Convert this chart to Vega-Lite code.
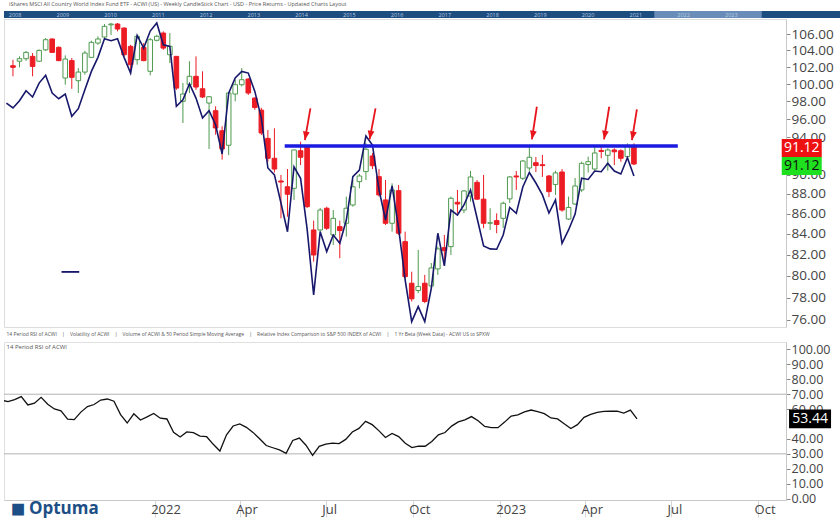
{
  "$schema": "https://vega.github.io/schema/vega-lite/v6.json",
  "background": "#ffffff",
  "padding": {"left": 3, "top": 1, "right": 0, "bottom": 0},
  "config": {
    "font": "Open Sans",
    "view": {"stroke": null},
    "axis": {"grid": false, "labelFont": "Open Sans", "titleFont": "Open Sans", "labelOverlap": false, "labelBound": false, "labelSeparation": 0},
    "title": {"font": "Open Sans", "subtitleFont": "Open Sans"}
  },
  "datasets": {
    "candles": [
      {"d":"2021-07-30","o":102.16,"h":102.88,"l":100.91,"c":101.97},
      {"d":"2021-08-06","o":102.70,"h":103.28,"l":101.97,"c":103.00},
      {"d":"2021-08-13","o":103.00,"h":103.92,"l":102.73,"c":103.76},
      {"d":"2021-08-20","o":103.28,"h":103.68,"l":100.91,"c":102.08},
      {"d":"2021-08-27","o":102.70,"h":104.10,"l":102.60,"c":104.00},
      {"d":"2021-09-03","o":104.07,"h":105.51,"l":103.92,"c":105.30},
      {"d":"2021-09-10","o":105.39,"h":105.45,"l":103.68,"c":103.76},
      {"d":"2021-09-17","o":104.37,"h":104.49,"l":102.70,"c":102.77},
      {"d":"2021-09-24","o":100.71,"h":103.40,"l":99.93,"c":102.96},
      {"d":"2021-10-01","o":102.77,"h":103.08,"l":99.46,"c":100.79},
      {"d":"2021-10-08","o":100.40,"h":101.88,"l":98.97,"c":101.41},
      {"d":"2021-10-15","o":101.41,"h":103.95,"l":101.10,"c":103.68},
      {"d":"2021-10-22","o":103.16,"h":105.18,"l":103.08,"c":104.98},
      {"d":"2021-10-29","o":104.89,"h":105.72,"l":104.68,"c":105.39},
      {"d":"2021-11-05","o":105.63,"h":107.24,"l":105.51,"c":106.95},
      {"d":"2021-11-12","o":107.14,"h":107.37,"l":105.88,"c":107.24},
      {"d":"2021-11-19","o":107.24,"h":107.37,"l":106.33,"c":106.62},
      {"d":"2021-11-26","o":106.74,"h":106.83,"l":103.28,"c":103.48},
      {"d":"2021-12-03","o":104.49,"h":104.68,"l":101.30,"c":102.28},
      {"d":"2021-12-10","o":102.88,"h":105.91,"l":102.28,"c":105.72},
      {"d":"2021-12-17","o":104.37,"h":104.89,"l":102.70,"c":102.77},
      {"d":"2021-12-24","o":101.50,"h":105.51,"l":101.03,"c":105.30},
      {"d":"2021-12-31","o":105.23,"h":105.91,"l":105.10,"c":105.72},
      {"d":"2022-01-07","o":106.12,"h":106.33,"l":104.07,"c":104.28},
      {"d":"2022-01-14","o":103.48,"h":106.12,"l":102.48,"c":104.49},
      {"d":"2022-01-21","o":103.28,"h":103.30,"l":99.34,"c":99.54},
      {"d":"2022-01-28","o":98.01,"h":100.13,"l":95.57,"c":98.85},
      {"d":"2022-02-04","o":99.93,"h":102.70,"l":98.97,"c":100.91},
      {"d":"2022-02-11","o":100.91,"h":103.28,"l":99.34,"c":99.66},
      {"d":"2022-02-18","o":99.46,"h":101.50,"l":98.39,"c":98.51},
      {"d":"2022-02-25","o":97.82,"h":98.60,"l":92.73,"c":98.54},
      {"d":"2022-03-04","o":96.95,"h":97.45,"l":94.28,"c":95.02},
      {"d":"2022-03-11","o":94.72,"h":95.21,"l":91.58,"c":92.73},
      {"d":"2022-03-18","o":93.13,"h":99.00,"l":92.07,"c":98.97},
      {"d":"2022-03-25","o":98.85,"h":100.51,"l":98.01,"c":99.93},
      {"d":"2022-04-01","o":99.93,"h":101.88,"l":99.74,"c":100.51},
      {"d":"2022-04-08","o":100.59,"h":100.71,"l":98.74,"c":98.97},
      {"d":"2022-04-15","o":98.39,"h":98.47,"l":97.05,"c":97.31},
      {"d":"2022-04-22","o":97.02,"h":97.28,"l":94.25,"c":94.47},
      {"d":"2022-04-29","o":93.88,"h":94.80,"l":91.36,"c":91.73},
      {"d":"2022-05-06","o":91.73,"h":94.99,"l":90.22,"c":90.59},
      {"d":"2022-05-13","o":89.34,"h":89.97,"l":85.54,"c":89.23},
      {"d":"2022-05-20","o":88.74,"h":90.59,"l":85.70,"c":87.97},
      {"d":"2022-05-27","o":88.58,"h":92.65,"l":87.39,"c":92.62},
      {"d":"2022-06-03","o":92.54,"h":93.52,"l":91.01,"c":91.84},
      {"d":"2022-06-10","o":92.98,"h":93.16,"l":86.58,"c":86.71},
      {"d":"2022-06-17","o":84.39,"h":85.31,"l":81.34,"c":81.97},
      {"d":"2022-06-24","o":84.39,"h":86.58,"l":84.20,"c":86.37},
      {"d":"2022-07-01","o":86.55,"h":86.71,"l":84.39,"c":84.56},
      {"d":"2022-07-08","o":83.90,"h":86.37,"l":82.93,"c":85.54},
      {"d":"2022-07-15","o":84.72,"h":85.31,"l":81.66,"c":84.33},
      {"d":"2022-07-22","o":85.05,"h":87.73,"l":83.74,"c":86.55},
      {"d":"2022-07-29","o":86.88,"h":89.44,"l":86.71,"c":88.74},
      {"d":"2022-08-05","o":89.27,"h":90.07,"l":88.58,"c":89.86},
      {"d":"2022-08-12","o":90.32,"h":93.38,"l":89.44,"c":92.70},
      {"d":"2022-08-19","o":91.98,"h":92.29,"l":90.59,"c":90.94},
      {"d":"2022-08-26","o":89.79,"h":90.59,"l":87.73,"c":87.90},
      {"d":"2022-09-02","o":87.39,"h":89.44,"l":84.88,"c":85.05},
      {"d":"2022-09-09","o":85.05,"h":89.10,"l":84.23,"c":88.41},
      {"d":"2022-09-16","o":88.34,"h":88.93,"l":83.90,"c":84.07},
      {"d":"2022-09-23","o":83.25,"h":84.23,"l":79.78,"c":79.93},
      {"d":"2022-09-30","o":79.32,"h":80.39,"l":77.65,"c":77.89},
      {"d":"2022-10-07","o":78.65,"h":82.45,"l":78.41,"c":79.01},
      {"d":"2022-10-14","o":79.32,"h":80.09,"l":77.50,"c":77.65},
      {"d":"2022-10-21","o":79.07,"h":81.21,"l":78.88,"c":80.74},
      {"d":"2022-10-28","o":80.65,"h":82.77,"l":80.09,"c":82.55},
      {"d":"2022-11-04","o":82.67,"h":83.90,"l":81.02,"c":82.38},
      {"d":"2022-11-11","o":82.77,"h":87.73,"l":81.97,"c":87.56},
      {"d":"2022-11-18","o":87.15,"h":88.41,"l":86.04,"c":86.98},
      {"d":"2022-11-25","o":86.37,"h":88.41,"l":86.07,"c":88.31},
      {"d":"2022-12-02","o":87.79,"h":90.39,"l":87.22,"c":89.76},
      {"d":"2022-12-09","o":89.20,"h":89.44,"l":87.39,"c":87.47},
      {"d":"2022-12-16","o":87.47,"h":89.97,"l":84.56,"c":85.05},
      {"d":"2022-12-23","o":85.05,"h":86.55,"l":84.39,"c":85.11},
      {"d":"2022-12-30","o":85.31,"h":86.04,"l":84.07,"c":84.93},
      {"d":"2023-01-06","o":85.54,"h":87.22,"l":84.59,"c":87.05},
      {"d":"2023-01-13","o":87.50,"h":89.86,"l":87.08,"c":89.76},
      {"d":"2023-01-20","o":89.86,"h":90.39,"l":88.41,"c":89.76},
      {"d":"2023-01-27","o":89.62,"h":91.55,"l":89.44,"c":91.44},
      {"d":"2023-02-03","o":90.70,"h":93.16,"l":90.41,"c":91.84},
      {"d":"2023-02-10","o":91.26,"h":91.87,"l":90.28,"c":90.96},
      {"d":"2023-02-17","o":91.05,"h":92.09,"l":89.76,"c":90.95},
      {"d":"2023-02-24","o":89.86,"h":89.97,"l":87.69,"c":88.24},
      {"d":"2023-03-03","o":88.98,"h":90.41,"l":87.90,"c":90.18},
      {"d":"2023-03-10","o":90.28,"h":90.59,"l":86.20,"c":86.37},
      {"d":"2023-03-17","o":85.47,"h":87.73,"l":85.38,"c":86.63},
      {"d":"2023-03-24","o":86.98,"h":89.65,"l":86.88,"c":88.82},
      {"d":"2023-03-31","o":88.41,"h":91.37,"l":88.21,"c":91.19},
      {"d":"2023-04-07","o":91.07,"h":91.91,"l":90.22,"c":91.37},
      {"d":"2023-04-14","o":90.59,"h":93.16,"l":90.41,"c":92.30},
      {"d":"2023-04-21","o":92.57,"h":92.98,"l":91.73,"c":92.46},
      {"d":"2023-04-28","o":92.05,"h":92.81,"l":90.41,"c":92.62},
      {"d":"2023-05-05","o":92.62,"h":92.81,"l":91.01,"c":92.43},
      {"d":"2023-05-12","o":92.54,"h":92.70,"l":91.36,"c":91.73},
      {"d":"2023-05-19","o":91.91,"h":93.34,"l":91.73,"c":93.08},
      {"d":"2023-05-26","o":92.98,"h":93.34,"l":91.01,"c":91.12}
    ],
    "lines": [
      {"d":"2021-07-23","v":97.82,"r":66.0},
      {"d":"2021-07-30","v":97.26,"r":65.0},
      {"d":"2021-08-06","v":98.08,"r":66.4},
      {"d":"2021-08-13","v":99.23,"r":68.4},
      {"d":"2021-08-20","v":98.51,"r":62.8},
      {"d":"2021-08-27","v":100.12,"r":64.0},
      {"d":"2021-09-03","v":101.03,"r":67.9},
      {"d":"2021-09-10","v":98.96,"r":63.3},
      {"d":"2021-09-17","v":98.31,"r":60.1},
      {"d":"2021-09-24","v":98.85,"r":58.9},
      {"d":"2021-10-01","v":96.32,"r":53.3},
      {"d":"2021-10-08","v":97.18,"r":53.0},
      {"d":"2021-10-15","v":99.35,"r":58.0},
      {"d":"2021-10-22","v":101.49,"r":61.7},
      {"d":"2021-10-29","v":103.16,"r":63.1},
      {"d":"2021-11-05","v":105.42,"r":66.1},
      {"d":"2021-11-12","v":105.17,"r":66.8},
      {"d":"2021-11-19","v":105.42,"r":65.3},
      {"d":"2021-11-26","v":103.16,"r":56.3},
      {"d":"2021-12-03","v":101.29,"r":50.7},
      {"d":"2021-12-10","v":105.82,"r":56.9},
      {"d":"2021-12-17","v":104.28,"r":52.7},
      {"d":"2021-12-24","v":106.37,"r":54.8},
      {"d":"2021-12-31","v":107.37,"r":57.1},
      {"d":"2022-01-07","v":104.69,"r":53.9},
      {"d":"2022-01-14","v":104.49,"r":53.4},
      {"d":"2022-01-21","v":97.45,"r":44.5},
      {"d":"2022-01-28","v":98.19,"r":41.3},
      {"d":"2022-02-04","v":100.04,"r":44.7},
      {"d":"2022-02-11","v":98.39,"r":44.2},
      {"d":"2022-02-18","v":96.13,"r":41.9},
      {"d":"2022-02-25","v":96.95,"r":41.5},
      {"d":"2022-03-04","v":95.38,"r":36.4},
      {"d":"2022-03-11","v":92.19,"r":31.9},
      {"d":"2022-03-18","v":98.96,"r":42.8},
      {"d":"2022-03-25","v":100.71,"r":48.7},
      {"d":"2022-04-01","v":101.49,"r":50.1},
      {"d":"2022-04-08","v":101.29,"r":47.8},
      {"d":"2022-04-15","v":99.16,"r":44.4},
      {"d":"2022-04-22","v":96.13,"r":40.1},
      {"d":"2022-04-29","v":90.70,"r":35.6},
      {"d":"2022-05-06","v":89.97,"r":34.1},
      {"d":"2022-05-13","v":87.08,"r":32.7},
      {"d":"2022-05-20","v":84.22,"r":30.4},
      {"d":"2022-05-27","v":90.83,"r":39.0},
      {"d":"2022-06-03","v":89.62,"r":40.6},
      {"d":"2022-06-10","v":84.49,"r":35.8},
      {"d":"2022-06-17","v":78.25,"r":29.0},
      {"d":"2022-06-24","v":84.22,"r":35.0},
      {"d":"2022-07-01","v":82.29,"r":36.5},
      {"d":"2022-07-08","v":83.90,"r":37.2},
      {"d":"2022-07-15","v":83.09,"r":36.9},
      {"d":"2022-07-22","v":85.37,"r":39.7},
      {"d":"2022-07-29","v":89.79,"r":44.7},
      {"d":"2022-08-05","v":90.48,"r":47.1},
      {"d":"2022-08-12","v":94.14,"r":51.8},
      {"d":"2022-08-19","v":93.16,"r":49.6},
      {"d":"2022-08-26","v":88.41,"r":45.6},
      {"d":"2022-09-02","v":85.37,"r":41.0},
      {"d":"2022-09-09","v":88.82,"r":43.7},
      {"d":"2022-09-16","v":84.58,"r":41.6},
      {"d":"2022-09-23","v":79.62,"r":37.1},
      {"d":"2022-09-30","v":75.85,"r":34.2},
      {"d":"2022-10-07","v":77.19,"r":35.2},
      {"d":"2022-10-14","v":75.85,"r":35.1},
      {"d":"2022-10-21","v":78.85,"r":38.3},
      {"d":"2022-10-28","v":84.07,"r":42.8},
      {"d":"2022-11-04","v":80.93,"r":44.3},
      {"d":"2022-11-11","v":86.37,"r":48.6},
      {"d":"2022-11-18","v":85.87,"r":51.4},
      {"d":"2022-11-25","v":86.88,"r":52.8},
      {"d":"2022-12-02","v":88.41,"r":55.0},
      {"d":"2022-12-09","v":85.57,"r":52.2},
      {"d":"2022-12-16","v":82.84,"r":48.4},
      {"d":"2022-12-23","v":82.55,"r":47.6},
      {"d":"2022-12-30","v":82.52,"r":47.6},
      {"d":"2023-01-06","v":83.90,"r":51.3},
      {"d":"2023-01-13","v":86.63,"r":55.4},
      {"d":"2023-01-20","v":86.04,"r":56.1},
      {"d":"2023-01-27","v":88.72,"r":58.1},
      {"d":"2023-02-03","v":90.23,"r":59.4},
      {"d":"2023-02-10","v":89.13,"r":58.3},
      {"d":"2023-02-17","v":87.90,"r":57.0},
      {"d":"2023-02-24","v":86.07,"r":54.1},
      {"d":"2023-03-03","v":87.39,"r":53.4},
      {"d":"2023-03-10","v":83.09,"r":50.2},
      {"d":"2023-03-17","v":84.39,"r":47.0},
      {"d":"2023-03-24","v":85.97,"r":49.6},
      {"d":"2023-03-31","v":89.62,"r":54.5},
      {"d":"2023-04-07","v":89.50,"r":56.5},
      {"d":"2023-04-14","v":90.38,"r":57.8},
      {"d":"2023-04-21","v":90.31,"r":58.5},
      {"d":"2023-04-28","v":91.19,"r":58.6},
      {"d":"2023-05-05","v":90.38,"r":58.7},
      {"d":"2023-05-12","v":90.07,"r":57.4},
      {"d":"2023-05-19","v":91.79,"r":59.4},
      {"d":"2023-05-26","v":89.86,"r":53.44}
    ],
    "arrows": [
      {"d1":"2022-06-13T13:00:00Z","p1":97.22,"d2":"2022-06-07T15:00:00Z","p2":93.70},
      {"d1":"2022-08-22T07:00:00Z","p1":97.22,"d2":"2022-08-15T23:00:00Z","p2":93.78},
      {"d1":"2023-02-11T01:00:00Z","p1":97.40,"d2":"2023-02-05T18:00:00Z","p2":93.78},
      {"d1":"2023-04-29T13:00:00Z","p1":97.40,"d2":"2023-04-23T23:00:00Z","p2":93.78},
      {"d1":"2023-05-29T04:00:00Z","p1":97.10,"d2":"2023-05-23T21:00:00Z","p2":93.70}
    ]
  },
  "spacing": 0,
  "vconcat": [
    {
      "width": 837,
      "height": 7,
      "title": {"text": "iShares MSCI All Country World Index Fund ETF - ACWI (US) - Weekly CandleStick Chart - USD - Price Returns - Updated Charts Layout", "anchor": "start", "fontSize": 5.5, "fontWeight": "normal", "color": "#555555", "offset": 4, "dx": 5},
      "view": {"fill": "#1e4d80", "stroke": null},
      "layer": [
        {
          "data": {"values": [{"from": 2021.54, "to": 2023.79}]},
          "mark": {"type": "rect", "color": "#6a8cb8"},
          "encoding": {
            "x": {"field": "from", "type": "quantitative", "scale": {"domain": [2007.92, 2025.45]}, "axis": null},
            "x2": {"field": "to"}
          }
        },
        {
          "data": {"values": [{"yr":2008},{"yr":2009},{"yr":2010},{"yr":2011},{"yr":2012},{"yr":2013},{"yr":2014},{"yr":2015},{"yr":2016},{"yr":2017},{"yr":2018},{"yr":2019},{"yr":2020},{"yr":2021},{"yr":2022},{"yr":2023}]},
          "mark": {"type": "text", "align": "left", "dx": 1, "fontSize": 5.5, "color": "#b9cce3"},
          "encoding": {
            "x": {"field": "yr", "type": "quantitative", "scale": {"domain": [2007.92, 2025.45]}, "axis": null},
            "text": {"field": "yr", "type": "nominal"}
          }
        }
      ]
    },
    {
      "spacing": 3,
      "vconcat": [
        {
          "width": 782,
          "height": 308,
          "view": {"stroke": "#dcdcdc"},
          "resolve": {"axis": {"y": "independent"}},
          "layer": [
            {
              "data": {"name": "candles"},
              "mark": {"type": "rule", "strokeWidth": 1},
              "encoding": {
                "x": {"field": "d", "type": "temporal", "scale": {"type": "utc", "domain": [{"year":2021,"month":7,"date":25,"hours":18,"utc":true},{"year":2023,"month":10,"date":30,"hours":12,"utc":true}]}, "axis": null},
                "y": {"field": "l", "type": "quantitative", "scale": {"type": "log", "domain": [75.38, 107.87]},
                      "axis": {"orient": "right", "values": [76,78,80,82,84,86,88,90,94,96,98,100,102,104,106], "format": ".2f", "labelFontSize": 13.5, "labelColor": "#444444", "tickSize": 4, "tickColor": "#888888", "domainColor": "#c8c8c8", "labelPadding": 1, "labelOverlap": false, "title": null}},
                "y2": {"field": "h"},
                "color": {"condition": {"test": "datum.c >= datum.o", "value": "#4f9a4f"}, "value": "#ec1c24"}
              }
            },
            {
              "data": {"name": "candles"},
              "mark": {"type": "bar", "width": 4.6, "strokeWidth": 1},
              "encoding": {
                "x": {"field": "d", "type": "temporal", "scale": {"type": "utc", "domain": [{"year":2021,"month":7,"date":25,"hours":18,"utc":true},{"year":2023,"month":10,"date":30,"hours":12,"utc":true}]}, "axis": null},
                "y": {"field": "o", "type": "quantitative", "scale": {"type": "log", "domain": [75.38, 107.87]}, "axis": null},
                "y2": {"field": "c"},
                "fill": {"condition": {"test": "datum.c >= datum.o", "value": "#ffffff"}, "value": "#ec1c24"},
                "stroke": {"condition": {"test": "datum.c >= datum.o", "value": "#4f9a4f"}, "value": "#ec1c24"}
              }
            },
            {
              "data": {"name": "lines"},
              "mark": {"type": "line", "color": "#17186b", "strokeWidth": 1.6, "clip": true},
              "encoding": {
                "x": {"field": "d", "type": "temporal", "scale": {"type": "utc", "domain": [{"year":2021,"month":7,"date":25,"hours":18,"utc":true},{"year":2023,"month":10,"date":30,"hours":12,"utc":true}]}, "axis": null},
                "y": {"field": "v", "type": "quantitative", "scale": {"type": "log", "domain": [75.38, 107.87]}, "axis": null}
              }
            },
            {
              "data": {"values": [{"a": "2021-09-20", "b": "2021-10-09", "v": 80.37}]},
              "mark": {"type": "rule", "color": "#17186b", "strokeWidth": 1.8},
              "encoding": {
                "x": {"field": "a", "type": "temporal", "scale": {"type": "utc", "domain": [{"year":2021,"month":7,"date":25,"hours":18,"utc":true},{"year":2023,"month":10,"date":30,"hours":12,"utc":true}]}, "axis": null},
                "x2": {"field": "b"},
                "y": {"field": "v", "type": "quantitative", "scale": {"type": "log", "domain": [75.38, 107.87]}, "axis": null}
              }
            },
            {
              "data": {"values": [{"a": "2022-05-17", "b": "2023-07-12", "v": 93.05}]},
              "mark": {"type": "rule", "color": "#1b1be0", "strokeWidth": 3.5},
              "encoding": {
                "x": {"field": "a", "type": "temporal", "scale": {"type": "utc", "domain": [{"year":2021,"month":7,"date":25,"hours":18,"utc":true},{"year":2023,"month":10,"date":30,"hours":12,"utc":true}]}, "axis": null},
                "x2": {"field": "b"},
                "y": {"field": "v", "type": "quantitative", "scale": {"type": "log", "domain": [75.38, 107.87]}, "axis": null}
              }
            },
            {
              "data": {"name": "arrows"},
              "mark": {"type": "rule", "color": "#e8141b", "strokeWidth": 1.8},
              "encoding": {
                "x": {"field": "d1", "type": "temporal", "scale": {"type": "utc", "domain": [{"year":2021,"month":7,"date":25,"hours":18,"utc":true},{"year":2023,"month":10,"date":30,"hours":12,"utc":true}]}, "axis": null},
                "x2": {"field": "d2"},
                "y": {"field": "p1", "type": "quantitative", "scale": {"type": "log", "domain": [75.38, 107.87]}, "axis": null},
                "y2": {"field": "p2"}
              }
            },
            {
              "data": {"name": "arrows"},
              "mark": {"type": "point", "shape": "M0,0L-0.8,-2L0.8,-2Z", "size": 72, "angle": 10, "filled": true, "opacity": 1, "color": "#e8141b"},
              "encoding": {
                "x": {"field": "d2", "type": "temporal", "scale": {"type": "utc", "domain": [{"year":2021,"month":7,"date":25,"hours":18,"utc":true},{"year":2023,"month":10,"date":30,"hours":12,"utc":true}]}, "axis": null},
                "y": {"field": "p2", "type": "quantitative", "scale": {"type": "log", "domain": [75.38, 107.87]}, "axis": null}
              }
            },
            {
              "data": {"values": [{"d": "2023-11-21T17:00:00Z", "v": 91.12}]},
              "mark": {"type": "point", "shape": "M-1,-0.45H1V0.45H-1Z", "size": 1600, "filled": true, "opacity": 1, "color": "#ee1111", "yOffset": -16},
              "encoding": {
                "x": {"field": "d", "type": "temporal", "scale": {"type": "utc", "domain": [{"year":2021,"month":7,"date":25,"hours":18,"utc":true},{"year":2023,"month":10,"date":30,"hours":12,"utc":true}]}, "axis": null},
                "y": {"field": "v", "type": "quantitative", "scale": {"type": "log", "domain": [75.38, 107.87]}, "axis": null}
              }
            },
            {
              "data": {"values": [{"d": "2023-11-21T17:00:00Z", "v": 91.12}]},
              "mark": {"type": "text", "fontSize": 14, "color": "#ffffff", "align": "center", "baseline": "middle", "yOffset": -16},
              "encoding": {
                "x": {"field": "d", "type": "temporal", "scale": {"type": "utc", "domain": [{"year":2021,"month":7,"date":25,"hours":18,"utc":true},{"year":2023,"month":10,"date":30,"hours":12,"utc":true}]}, "axis": null},
                "y": {"field": "v", "type": "quantitative", "scale": {"type": "log", "domain": [75.38, 107.87]}, "axis": null},
                "text": {"field": "v", "type": "quantitative", "format": ".2f"}
              }
            },
            {
              "data": {"values": [{"d": "2023-11-21T17:00:00Z", "v": 91.12}]},
              "mark": {"type": "point", "shape": "M-1,-0.45H1V0.45H-1Z", "size": 1600, "filled": true, "opacity": 1, "color": "#1fe01f", "yOffset": 2},
              "encoding": {
                "x": {"field": "d", "type": "temporal", "scale": {"type": "utc", "domain": [{"year":2021,"month":7,"date":25,"hours":18,"utc":true},{"year":2023,"month":10,"date":30,"hours":12,"utc":true}]}, "axis": null},
                "y": {"field": "v", "type": "quantitative", "scale": {"type": "log", "domain": [75.38, 107.87]}, "axis": null}
              }
            },
            {
              "data": {"values": [{"d": "2023-11-21T17:00:00Z", "v": 91.12}]},
              "mark": {"type": "text", "fontSize": 14, "color": "#111111", "align": "center", "baseline": "middle", "yOffset": 2},
              "encoding": {
                "x": {"field": "d", "type": "temporal", "scale": {"type": "utc", "domain": [{"year":2021,"month":7,"date":25,"hours":18,"utc":true},{"year":2023,"month":10,"date":30,"hours":12,"utc":true}]}, "axis": null},
                "y": {"field": "v", "type": "quantitative", "scale": {"type": "log", "domain": [75.38, 107.87]}, "axis": null},
                "text": {"field": "v", "type": "quantitative", "format": ".2f"}
              }
            }
          ]
        },
        {
          "width": 782,
          "height": 158,
          "view": {"stroke": "#e0e0e0"},
          "resolve": {"axis": {"y": "independent", "x": "independent"}},
          "title": {
            "text": "14 Period RSI of ACWI\u00a0\u00a0\u00a0\u00a0|\u00a0\u00a0\u00a0\u00a0Volatility of ACWI\u00a0\u00a0\u00a0\u00a0|\u00a0\u00a0\u00a0\u00a0Volume of ACWI & 50 Period Simple Moving Average\u00a0\u00a0\u00a0\u00a0|\u00a0\u00a0\u00a0\u00a0Relative Index Comparison to S&P 500 INDEX of ACWI\u00a0\u00a0\u00a0\u00a0|\u00a0\u00a0\u00a0\u00a01 Yr Beta (Week Data) - ACWI US to SPXW",
            "subtitle": "14 Period RSI of ACWI",
            "anchor": "start", "fontSize": 5, "fontWeight": "normal", "color": "#555555",
            "subtitleFontSize": 6, "subtitleColor": "#555555", "subtitlePadding": 7,
            "offset": -8, "dx": 3
          },
          "layer": [
            {
              "data": {"values": [{"lvl": 30}, {"lvl": 70}]},
              "mark": {"type": "rule", "color": "#b3b3b3", "strokeWidth": 1},
              "encoding": {
                "y": {"field": "lvl", "type": "quantitative", "scale": {"domain": [-0.94, 105.03]},
                      "axis": {"orient": "right", "values": [0,10,20,30,40,60,70,80,90,100], "format": ".2f", "labelFontSize": 12.5, "labelColor": "#444444", "tickSize": 4, "tickColor": "#888888", "domainColor": "#c8c8c8", "labelPadding": 1, "labelOverlap": false, "labelSeparation": 0, "title": null}}
              }
            },
            {
              "data": {"name": "lines"},
              "mark": {"type": "line", "color": "#111111", "strokeWidth": 1.3, "clip": true},
              "encoding": {
                "x": {"field": "d", "type": "temporal", "scale": {"type": "utc", "domain": [{"year":2021,"month":7,"date":25,"hours":18,"utc":true},{"year":2023,"month":10,"date":30,"hours":12,"utc":true}]},
                      "axis": {"values": [{"year":2022,"month":1,"date":1,"utc":true},{"year":2022,"month":4,"date":1,"utc":true},{"year":2022,"month":7,"date":1,"utc":true},{"year":2022,"month":10,"date":1,"utc":true},{"year":2023,"month":1,"date":1,"utc":true},{"year":2023,"month":4,"date":1,"utc":true},{"year":2023,"month":7,"date":1,"utc":true},{"year":2023,"month":10,"date":1,"utc":true}],
                               "labelExpr": "utcmonth(datum.value) == 0 ? utcFormat(datum.value, '%Y') : utcFormat(datum.value, '%b')",
                               "labelAlign": "left", "labelBaseline": "top", "labelPadding": -14, "labelOffset": -4, "tickSize": 17, "tickColor": "#d6d6d6", "domainColor": "#c8c8c8", "labelFontSize": 13, "labelColor": "#444444", "labelFlush": false, "labelOverlap": false,
                               "title": "◼ Optuma", "titleFontSize": 17, "titleFontWeight": "bold", "titleColor": "#1d4f86", "titleAnchor": "start", "titleAlign": "left", "titleBaseline": "top", "titleX": 6, "titleY": 0}},
                "y": {"field": "r", "type": "quantitative", "scale": {"domain": [-0.94, 105.03]}, "axis": null}
              }
            },
            {
              "data": {"values": [{"d": "2023-11-24T22:00:00Z", "r": 53.44}]},
              "mark": {"type": "point", "shape": "M-1,-0.45H1V0.45H-1Z", "size": 1764, "filled": true, "opacity": 1, "color": "#000000"},
              "encoding": {
                "x": {"field": "d", "type": "temporal", "scale": {"type": "utc", "domain": [{"year":2021,"month":7,"date":25,"hours":18,"utc":true},{"year":2023,"month":10,"date":30,"hours":12,"utc":true}]}, "axis": null},
                "y": {"field": "r", "type": "quantitative", "scale": {"domain": [-0.94, 105.03]}, "axis": null}
              }
            },
            {
              "data": {"values": [{"d": "2023-11-24T22:00:00Z", "r": 53.44}]},
              "mark": {"type": "text", "fontSize": 14, "color": "#ffffff", "align": "center", "baseline": "middle"},
              "encoding": {
                "x": {"field": "d", "type": "temporal", "scale": {"type": "utc", "domain": [{"year":2021,"month":7,"date":25,"hours":18,"utc":true},{"year":2023,"month":10,"date":30,"hours":12,"utc":true}]}, "axis": null},
                "y": {"field": "r", "type": "quantitative", "scale": {"domain": [-0.94, 105.03]}, "axis": null},
                "text": {"field": "r", "type": "quantitative", "format": ".2f"}
              }
            }
          ]
        }
      ]
    }
  ]
}
